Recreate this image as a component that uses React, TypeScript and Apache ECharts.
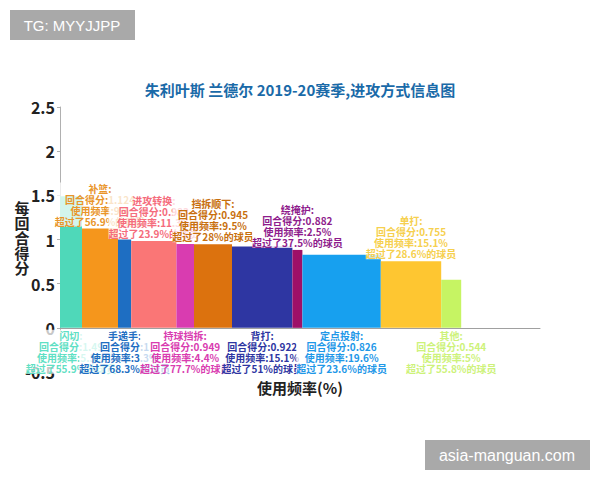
import * as echarts from 'echarts'
import React, { useEffect, useRef } from 'react'

// play types, left to right
const playTypes = ['闪切', '补篮', '手递手', '进攻转换', '持球挡拆', '挡拆顺下', '背打', '绕掩护', '定点投射', '单打', '其他']
const pointsPerPoss = [1.49, 1.124, 1, 0.983, 0.949, 0.945, 0.922, 0.882, 0.826, 0.755, 0.544]
const frequency = [5.5, 9, 3.3, 11.3, 4.4, 9.5, 15.1, 2.5, 19.6, 15.1, 5]
const percentile = [55.9, 56.9, 68.3, 23.9, 77.7, 28, 51, 37.5, 23.6, 28.6, 55.8]

const barColors = ['#4fd8b9', '#f5961c', '#1e6ec2', '#fa7676', '#d93cb0', '#dc720e', '#2e36a2', '#9e1068', '#17a0ef', '#fec631', '#c6f463']
const labelColors = ['#5fe0c4', '#e9952a', '#1e6ec2', '#f56c7c', '#d93cb0', '#c8700e', '#2e36a2', '#8e1c8c', '#1f98e8', '#f6d04e', '#cdf27a']

const font = '"Noto Sans CJK SC", "Noto Sans", sans-serif'

function buildData() {
  let start = 0
  const rows: number[][] = []
  for (let i = 0; i < playTypes.length; i++) {
    rows.push([start, start + frequency[i], pointsPerPoss[i]])
    start += frequency[i]
  }
  return rows
}

function labelText(i: number) {
  return `${playTypes[i]}:\n回合得分:${pointsPerPoss[i]}\n使用频率:${frequency[i]}%\n超过了${percentile[i]}%的球员`
}

export default function App() {
  const chartRef = useRef(null)

  useEffect(() => {
    document.body.style.margin = '0'
    const chart = echarts.init(chartRef.current, null, { renderer: 'svg' })

    const option = {
      animation: false,
      textStyle: { fontFamily: font },
      grid: { left: 60, right: 60, top: 107, bottom: 108 },
      xAxis: {
        type: 'value',
        min: 0,
        max: 120,
        axisLine: { show: true, lineStyle: { color: '#a0a0a0', width: 1 } },
        axisTick: { show: false },
        axisLabel: { show: false },
        splitLine: { show: false },
      },
      yAxis: {
        type: 'value',
        min: -0.5,
        max: 2.5,
        interval: 0.5,
        axisLine: { show: true, lineStyle: { color: '#b0b0b0', width: 1 } },
        axisTick: { show: true, length: 3, lineStyle: { color: '#b0b0b0' } },
        axisLabel: { color: '#222', fontSize: 16, fontWeight: 'bold', margin: 5 },
        splitLine: { show: false },
      },
      graphic: [
        {
          type: 'rect',
          shape: { x: 10, y: 10, width: 125, height: 30 },
          style: { fill: '#a9a9a9' },
        },
        {
          type: 'text',
          x: 72,
          y: 25,
          style: { text: 'TG: MYYJJPP', fill: '#fff', fontSize: 15, fontFamily: 'Liberation Sans', align: 'center', verticalAlign: 'middle' },
        },
        {
          type: 'rect',
          shape: { x: 425, y: 440, width: 165, height: 30 },
          style: { fill: '#a9a9a9' },
        },
        {
          type: 'text',
          x: 507,
          y: 455,
          style: { text: 'asia-manguan.com', fill: '#fff', fontSize: 16, fontFamily: 'Liberation Sans', align: 'center', verticalAlign: 'middle' },
        },
        {
          type: 'text',
          x: 300,
          y: 89,
          style: { text: '朱利叶斯 兰德尔 2019-20赛季,进攻方式信息图', fill: '#1a6aa8', fontSize: 15, fontWeight: 'bold', fontFamily: font, align: 'center', verticalAlign: 'middle' },
        },
        {
          type: 'text',
          x: 22,
          y: 237,
          style: { text: '每\n回\n合\n得\n分', fill: '#222', fontSize: 15, fontWeight: 'bold', lineHeight: 15, fontFamily: font, align: 'center', verticalAlign: 'middle' },
        },
        {
          type: 'text',
          x: 300,
          y: 387,
          style: { text: '使用频率(%)', fill: '#222', fontSize: 15, fontWeight: 'bold', fontFamily: font, align: 'center', verticalAlign: 'middle' },
        },
      ],
      series: [
        {
          type: 'custom',
          data: buildData(),
          encode: { x: [0, 1], y: 2 },
          clip: false,
          renderItem: (params: any, api: any) => {
            const i = params.dataIndex
            const topLeft = api.coord([api.value(0), api.value(2)])
            const bottomRight = api.coord([api.value(1), 0])
            const cx = (topLeft[0] + bottomRight[0]) / 2
            const above = i % 2 === 1
            return {
              type: 'group',
              children: [
                {
                  type: 'rect',
                  shape: {
                    x: topLeft[0],
                    y: topLeft[1],
                    width: bottomRight[0] - topLeft[0],
                    height: bottomRight[1] - topLeft[1],
                  },
                  style: { fill: barColors[i] },
                },
                {
                  type: 'text',
                  x: cx,
                  y: above ? topLeft[1] - 2 : bottomRight[1] + 2,
                  z2: 10 + i,
                  style: {
                    text: labelText(i),
                    fill: labelColors[i],
                    fontSize: 10,
                    fontWeight: 'bold',
                    fontFamily: font,
                    lineHeight: 11,
                    align: 'center',
                    verticalAlign: above ? 'bottom' : 'top',
                    backgroundColor: 'rgba(255,255,255,0.75)',
                  },
                },
              ],
            }
          },
        },
      ],
    }

    chart.setOption(option)

    return () => {
      chart.dispose()
    }
  }, [])

  return <div ref={chartRef} style={{ width: '600px', height: '480px' }} />
}
